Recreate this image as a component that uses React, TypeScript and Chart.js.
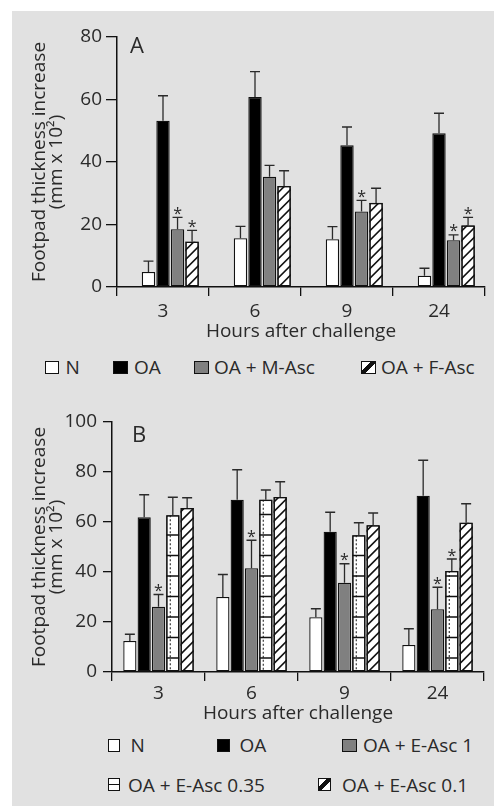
import React, { useEffect, useRef } from "react";
import { Chart, registerables } from "chart.js";
Chart.register(...registerables);

// ---------- data ----------
const hours = ["3", "6", "9", "24"];
const yTitle = ["Footpad thickness increase", "(mm x 10²)"];
const xTitle = "Hours after challenge";

// Panel A
const aN = [4.8, 15.6, 15.3, 3.6];
const aNErr = [3.5, 3.8, 4.0, 2.4];
const aOA = [53.2, 60.8, 45.4, 49.2];
const aOAErr = [8.0, 8.1, 5.8, 6.4];
const aM = [18.5, 35.3, 24.2, 15.0];
const aMErr = [3.8, 3.6, 3.5, 1.7];
const aF = [14.5, 32.3, 26.9, 19.7];
const aFErr = [3.6, 4.9, 4.7, 2.6];
const aMStar = [true, false, true, true];
const aFStar = [true, false, false, true];
const aTicks = [0, 20, 40, 60, 80];

// Panel B
const bN = [12.4, 30.0, 21.9, 10.8];
const bNErr = [2.7, 9.0, 3.4, 6.5];
const bOA = [61.9, 68.9, 56.1, 70.5];
const bOAErr = [9.0, 12.0, 7.8, 14.2];
const bE1 = [26.1, 41.5, 35.7, 25.1];
const bE1Err = [4.9, 11.2, 7.6, 8.8];
const bE035 = [62.7, 68.9, 54.7, 40.4];
const bE035Err = [7.2, 3.9, 5.0, 4.8];
const bE01 = [65.6, 70.0, 58.7, 59.7];
const bE01Err = [4.1, 6.1, 4.9, 7.6];
const bE1Star = [true, true, true, true];
const bE035Star = [false, false, false, true];
const bTicks = [0, 20, 40, 60, 80, 100];

const FONT = "'Open Sans', 'DejaVu Sans', sans-serif";
const INK = "#2a2a2a";
const EDGE = "#111";

// ---------- drawing helpers ----------
function drawPattern(ctx: CanvasRenderingContext2D, kind: string, l: number, t: number, w: number, b: number, chartBottom: number) {
  ctx.save();
  ctx.beginPath();
  ctx.rect(l, t, w, b - t);
  ctx.clip();
  ctx.strokeStyle = EDGE;
  if (kind === "hatch") {
    ctx.lineWidth = 1.6;
    const sp = 9.5;
    const n = Math.ceil((b - t + w) / sp) + 2;
    for (let k = 0; k < n; k++) {
      const y0 = b + 2 - k * sp;
      ctx.beginPath();
      ctx.moveTo(l - 1, y0 + 1);
      ctx.lineTo(l + w + 1, y0 - w - 1);
      ctx.stroke();
    }
  } else if (kind === "grid") {
    ctx.lineWidth = 1.6;
    const sp = 20.5;
    for (let k = 0; k < 40; k++) {
      const yy = chartBottom - 14 - k * sp;
      if (yy < t) break;
      if (yy > b) continue;
      ctx.beginPath();
      ctx.moveTo(l, yy);
      ctx.lineTo(l + w, yy);
      ctx.stroke();
    }
    ctx.lineWidth = 1;
    ctx.setLineDash([2, 2]);
    ctx.beginPath();
    ctx.moveTo(l + 4, t);
    ctx.lineTo(l + 4, b);
    ctx.stroke();
    ctx.setLineDash([]);
  }
  ctx.restore();
  ctx.save();
  ctx.strokeStyle = EDGE;
  ctx.lineWidth = 1.3;
  ctx.strokeRect(l + 0.65, t + 0.65, w - 1.3, b - t - 1.3);
  ctx.restore();
}

const overlayPlugin = {
  id: "overlay",
  afterDatasetsDraw(chart: any, _args: any, opts: any) {
    const ctx: CanvasRenderingContext2D = chart.ctx;
    const ys = chart.scales.y;
    const area = chart.chartArea;
    chart.data.datasets.forEach((ds: any, di: number) => {
      const meta = chart.getDatasetMeta(di);
      meta.data.forEach((bar: any, j: number) => {
        const p = bar.getProps(["x", "y", "base", "width"], true);
        const l = p.x - p.width / 2;
        if (ds.pattern) drawPattern(ctx, ds.pattern, l, p.y, p.width, p.base, area.bottom);
        if (ds.errors) {
          const top = ys.getPixelForValue(ds.data[j] + ds.errors[j]);
          ctx.save();
          ctx.strokeStyle = INK;
          ctx.lineWidth = 1.3;
          ctx.beginPath();
          ctx.moveTo(p.x, p.y);
          ctx.lineTo(p.x, top);
          ctx.moveTo(p.x - 5, top);
          ctx.lineTo(p.x + 5, top);
          ctx.stroke();
          if (ds.stars && ds.stars[j]) {
            ctx.fillStyle = INK;
            ctx.font = `16px ${FONT}`;
            ctx.textAlign = "center";
            ctx.textBaseline = "alphabetic";
            ctx.fillText("*", p.x, top + 1.5);
          }
          ctx.restore();
        }
      });
    });
    // panel letter
    ctx.save();
    ctx.fillStyle = INK;
    ctx.font = `22px ${FONT}`;
    ctx.textAlign = "left";
    ctx.textBaseline = "alphabetic";
    ctx.fillText(opts.letter, area.left + opts.letterDx, area.top + opts.letterDy);
    ctx.restore();
  },
};

type PanelCfg = {
  top: number;
  height: number;
  padTop: number;
  padRight: number;
  yWidth: number;
  xHeight: number;
  xTickPad: number;
  max: number;
  ticks: number[];
  yTickLen: number;
  yTickPad: number;
  letter: string;
  letterDx: number;
  letterDy: number;
  catPct: number;
  datasets: any[];
};

function BarPanel({ cfg }: { cfg: PanelCfg }) {
  const ref = useRef<HTMLCanvasElement>(null);
  useEffect(() => {
    const font = { family: FONT, size: 19 };
    const chart = new Chart(ref.current!, {
      type: "bar",
      data: { labels: hours, datasets: cfg.datasets },
      options: {
        responsive: false,
        animation: false,
        devicePixelRatio: 1,
        layout: { padding: { left: 0, top: cfg.padTop, right: cfg.padRight, bottom: 0 } },
        plugins: {
          legend: { display: false },
          tooltip: { enabled: false },
          overlay: { letter: cfg.letter, letterDx: cfg.letterDx, letterDy: cfg.letterDy },
        } as any,
        datasets: { bar: { categoryPercentage: cfg.catPct, barPercentage: 0.92 } } as any,
        scales: {
          x: {
            type: "category",
            offset: true,
            grid: { display: true, drawOnChartArea: false, drawTicks: true, tickLength: 9, offset: true, color: EDGE, lineWidth: 1.3 },
            border: { display: true, color: EDGE, width: 1.5 },
            ticks: { font, color: INK, padding: cfg.xTickPad },
            title: { display: true, text: xTitle, font, color: INK, padding: { top: 0, bottom: 1 } },
            afterFit: (s: any) => { s.height = cfg.xHeight; },
          },
          y: {
            min: 0,
            max: cfg.max,
            afterBuildTicks: (s: any) => { s.ticks = cfg.ticks.map((v) => ({ value: v })); },
            grid: { display: true, drawOnChartArea: false, drawTicks: true, tickLength: cfg.yTickLen, color: EDGE, lineWidth: 1.3 },
            border: { display: true, color: EDGE, width: 1.5 },
            ticks: { font, color: INK, padding: cfg.yTickPad },
            title: { display: true, text: yTitle, font: { family: FONT, size: 19, lineHeight: 0.9 }, color: INK, padding: { top: 19, bottom: 0 } },
            afterFit: (s: any) => { s.width = cfg.yWidth; },
          },
        } as any,
      },
      plugins: [overlayPlugin as any],
    });
    return () => chart.destroy();
  }, []);
  return (
    <canvas
      ref={ref}
      width={482}
      height={cfg.height}
      style={{ position: "absolute", left: 12, top: cfg.top, width: 482, height: cfg.height }}
    />
  );
}

const bar = (label: string, data: number[], bg: string, extra: any = {}) => ({
  label,
  data,
  backgroundColor: bg,
  borderColor: EDGE,
  borderWidth: 1.3,
  borderSkipped: false,
  ...extra,
});

const panelA: PanelCfg = {
  top: 11,
  height: 333,
  padTop: 26,
  padRight: 9,
  yWidth: 105,
  xHeight: 57,
  xTickPad: 4,
  max: 80,
  ticks: aTicks,
  yTickLen: 11,
  yTickPad: 4,
  letter: "A",
  letterDx: 13,
  letterDy: 16,
  catPct: 0.79,
  datasets: [
    { label: "", data: [0, 0, 0, 0], backgroundColor: "rgba(0,0,0,0)", borderWidth: 0 },
    bar("N", aN, "#ffffff", { errors: aNErr }),
    bar("OA", aOA, "#000000", { errors: aOAErr }),
    bar("OA + M-Asc", aM, "#808080", { errors: aMErr, stars: aMStar }),
    bar("OA + F-Asc", aF, "#ffffff", { errors: aFErr, stars: aFStar, pattern: "hatch" }),
  ],
};

const panelB: PanelCfg = {
  top: 390,
  height: 336,
  padTop: 32,
  padRight: 10,
  yWidth: 100,
  xHeight: 54,
  xTickPad: 1,
  max: 100,
  ticks: bTicks,
  yTickLen: 9,
  yTickPad: 6,
  letter: "B",
  letterDx: 20,
  letterDy: 20,
  catPct: 0.77,
  datasets: [
    bar("N", bN, "#ffffff", { errors: bNErr }),
    bar("OA", bOA, "#000000", { errors: bOAErr }),
    bar("OA + E-Asc 1", bE1, "#808080", { errors: bE1Err, stars: bE1Star }),
    bar("OA + E-Asc 0.35", bE035, "#ffffff", { errors: bE035Err, stars: bE035Star, pattern: "grid" }),
    bar("OA + E-Asc 0.1", bE01, "#ffffff", { errors: bE01Err, pattern: "hatch" }),
  ],
};

// ---------- legends ----------
const swatchBg: Record<string, string> = {
  white: "#ffffff",
  black: "#000000",
  grey: "#808080",
  hatch: "linear-gradient(135deg, #fff 36%, #111 36%, #111 62%, #fff 62%)",
  grid: "linear-gradient(to bottom, #fff 42%, #111 42%, #111 58%, #fff 58%)",
};

type LegendItem = { text: string; kind: string; sx: number; tx: number; cy: number; sw: number; sh: number };

const legendA: LegendItem[] = [
  { text: "N", kind: "white", sx: 45, tx: 65.5, cy: 367, sw: 14, sh: 13 },
  { text: "OA", kind: "black", sx: 113, tx: 134, cy: 367, sw: 15, sh: 13 },
  { text: "OA + M-Asc", kind: "grey", sx: 194, tx: 214, cy: 367, sw: 15, sh: 13 },
  { text: "OA + F-Asc", kind: "hatch", sx: 361, tx: 381, cy: 367, sw: 15, sh: 13 },
];
const legendB: LegendItem[] = [
  { text: "N", kind: "white", sx: 108, tx: 130.5, cy: 745, sw: 12, sh: 13 },
  { text: "OA", kind: "black", sx: 217, tx: 239.5, cy: 745, sw: 13, sh: 13 },
  { text: "OA + E-Asc 1", kind: "grey", sx: 342, tx: 363, cy: 745, sw: 15, sh: 13 },
  { text: "OA + E-Asc 0.35", kind: "grid", sx: 108, tx: 128, cy: 784.5, sw: 12, sh: 13 },
  { text: "OA + E-Asc 0.1", kind: "hatch", sx: 318, tx: 342, cy: 784.5, sw: 13, sh: 13 },
];

function Legend({ items }: { items: LegendItem[] }) {
  return (
    <>
      {items.map((it) => (
        <React.Fragment key={it.text + it.cy}>
          <div
            style={{
              position: "absolute",
              left: it.sx,
              top: it.cy - it.sh / 2,
              width: it.sw,
              height: it.sh,
              boxSizing: "border-box",
              border: `1.3px solid ${EDGE}`,
              background: swatchBg[it.kind],
            }}
          />
          <div
            style={{
              position: "absolute",
              left: it.tx,
              top: it.cy - 13,
              height: 26,
              lineHeight: "26px",
              fontFamily: FONT,
              fontSize: 19,
              color: INK,
              whiteSpace: "nowrap",
            }}
          >
            {it.text}
          </div>
        </React.Fragment>
      ))}
    </>
  );
}

export default function App() {
  return (
    <div style={{ position: "fixed", left: 0, top: 0, width: 494, height: 806, overflow: "hidden", background: "#fff" }}>
      <div style={{ position: "absolute", left: 12, top: 11, width: 482, height: 795, background: "#e1e1e1" }} />
      <BarPanel cfg={panelA} />
      <Legend items={legendA} />
      <BarPanel cfg={panelB} />
      <Legend items={legendB} />
    </div>
  );
}
